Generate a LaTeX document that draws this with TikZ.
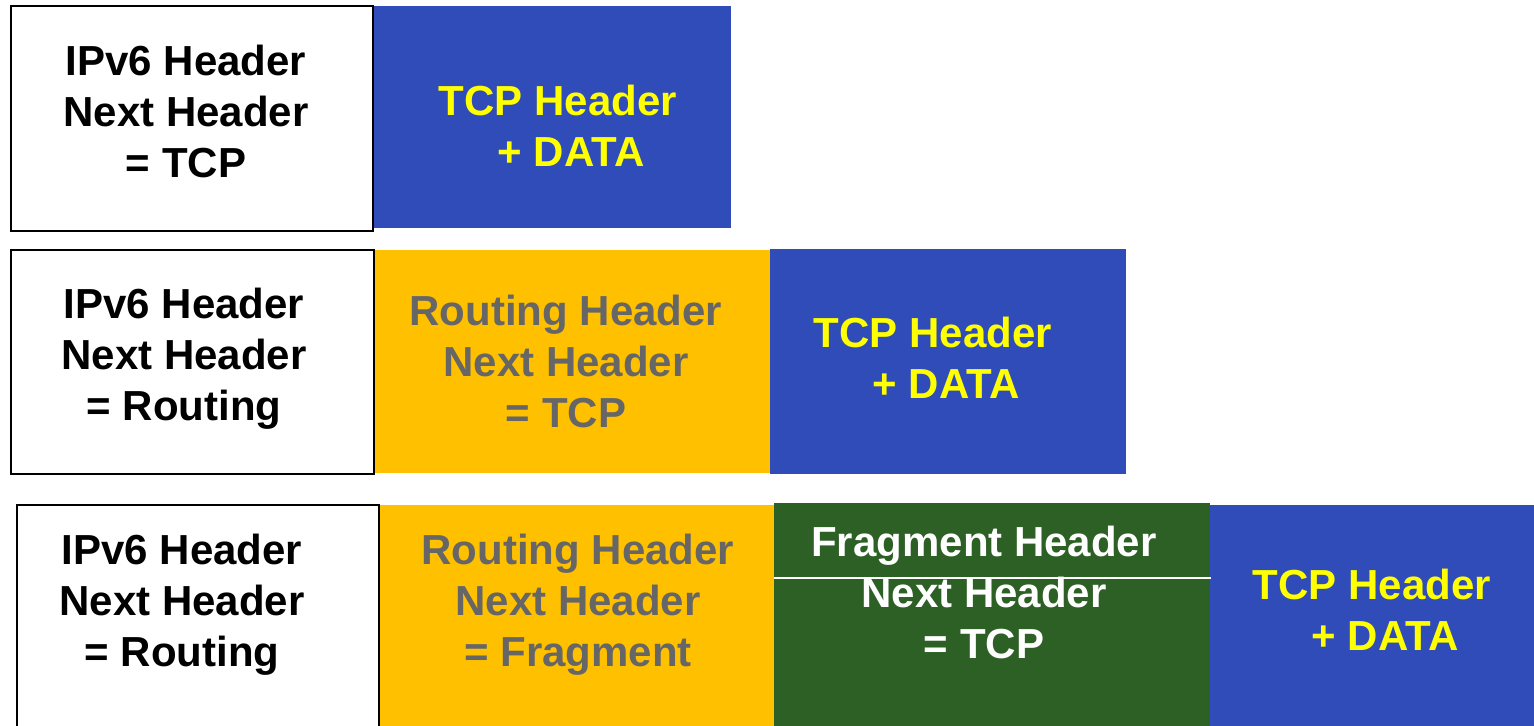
\documentclass[tikz,border=0pt]{standalone}
\usepackage{fontspec}
\setmainfont{Liberation Sans}
\usetikzlibrary{positioning}
\definecolor{hdrblue}{RGB}{48,76,185}
\definecolor{hdryellow}{RGB}{255,192,0}
\definecolor{hdrgreen}{RGB}{45,96,36}
\definecolor{hdrgray}{RGB}{102,102,102}
\definecolor{tcpyellow}{RGB}{255,255,0}
\tikzset{
  % extension header block (parameterized by fill colour)
  hdrbox/.style={rectangle, anchor=north west, inner sep=0pt, fill=#1},
  ipbox/.style={rectangle, anchor=north west, inner sep=0pt, draw=black, line width=1pt, fill=white},
  % block text (parameterized by text colour)
  hdrtext/.style={align=center, inner sep=0pt, font=\fontsize{21pt}{25.5pt}\selectfont\bfseries, text=#1}
}

\begin{document}
\begin{tikzpicture}[x=0.5pt, y=-0.5pt]
  \useasboundingbox (0,0) rectangle (1534,725);
  \clip (0,0) rectangle (1534,725);

  % Row 1: IPv6 + TCP
  \node[hdrbox=hdrblue, minimum width=179.5pt, minimum height=111pt] (tcpA) at (372,6) {};
  \node[ipbox, minimum width=181pt, minimum height=112.5pt] (ipA) at (10,5) {};
  \node[hdrtext=black] (ipAtext) at (186,111) {IPv6 Header\\Next Header\\= TCP};
  \node[hdrtext=tcpyellow] (tcpAtext) at (558,126) {TCP Header\\\hspace*{13pt}+ DATA};

  % Row 2: IPv6 + Routing + TCP
  \node[hdrbox=hdryellow, minimum width=198.5pt, minimum height=111.5pt] (rtB) at (373,250) {};
  \node[hdrbox=hdrblue, minimum width=178pt, minimum height=112.5pt] (tcpB) at (770,249) {};
  \node[ipbox, minimum width=181.5pt, minimum height=112pt] (ipB) at (10,249) {};
  \node[hdrtext=black] (ipBtext) at (184,359) {IPv6 Header\\Next Header\\= Routing};
  \node[hdrtext=hdrgray] (rtBtext) at (566,361) {Routing Header\\Next Header\\= TCP};
  \node[hdrtext=tcpyellow] (tcpBtext) at (933,358) {TCP Header\\\hspace*{13pt}+ DATA};

  % Row 3: IPv6 + Routing + Fragment + TCP
  \node[hdrbox=hdryellow, minimum width=197.5pt, minimum height=115pt] (rtC) at (379,505) {};
  \node[hdrbox=hdrgreen, minimum width=218pt, minimum height=116pt] (frC) at (774,503) {};
  \node[hdrbox=hdrblue, minimum width=165pt, minimum height=115pt] (tcpC) at (1210,505) {};
  \node[ipbox, minimum width=181pt, minimum height=116pt] (ipC) at (16,504) {};
  \draw[white, line width=0.6pt] ([yshift=-37.5pt]frC.north west) -- ([yshift=-37.5pt]frC.north east);
  \node[hdrtext=black] (ipCtext) at (182,605) {IPv6 Header\\Next Header\\= Routing};
  \node[hdrtext=hdrgray] (rtCtext) at (578,605) {Routing Header\\Next Header\\= Fragment};
  \node[hdrtext=white] (frCtext) at (984,592) {Fragment Header\\Next Header\\= TCP};
  \node[hdrtext=tcpyellow] (tcpCtext) at (1372,610) {TCP Header\\\hspace*{13pt}+ DATA};
\end{tikzpicture}
\end{document}
